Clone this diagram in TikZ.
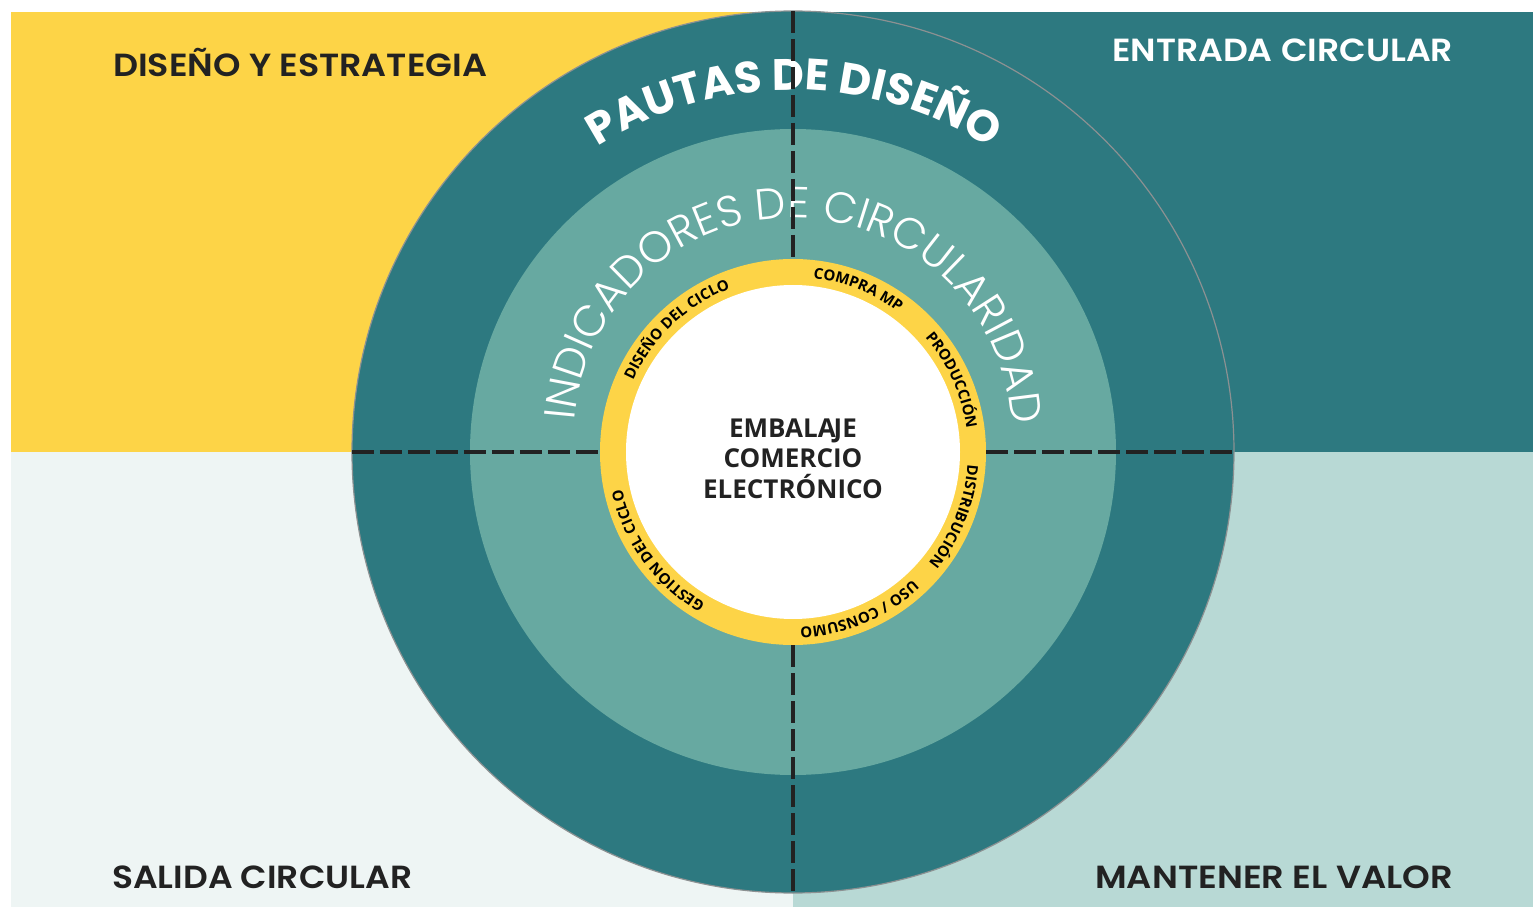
\documentclass[tikz,border=0pt]{standalone}
\usepackage{fontspec}
\usepackage{graphicx}
\usetikzlibrary{decorations.text}
\newfontfamily\titlefam{Poppins SemiBold}
\newfontfamily\pautasfam{Poppins Bold}
\newfontfamily\thinfam{Poppins Light}
\newfontfamily\osfam{Open Sans}
\definecolor{cyellow}{HTML}{FDD447}
\definecolor{cteal}{HTML}{2D7980}
\definecolor{cmid}{HTML}{67A9A1}
\definecolor{clight}{HTML}{B8D9D5}
\definecolor{cgrey}{HTML}{EEF5F4}
\definecolor{cdark}{HTML}{222222}
\definecolor{cedge}{HTML}{8C9192}
\newcommand\fitw[2]{\resizebox{#1}{\height}{#2}}
\newcommand\pautasf{\pautasfam\fontsize{44}{46}\selectfont}
\newcommand\indf{\thinfam\fontsize{43.5}{45}\selectfont}
\newcommand\ringf{\osfam\bfseries\fontsize{15}{16}\selectfont}
\begin{document}
\begin{tikzpicture}[x=1pt,y=1pt,
  quadtitle/.style={anchor=base west, inner sep=0, font=\titlefam\fontsize{32}{34}\selectfont},
  centertext/.style={anchor=base, inner sep=0, text=cdark, font=\osfam\bfseries\fontsize{26}{30}\selectfont},
  divider/.style={draw=cdark, line width=3.2, dash pattern=on 22 off 6},
  ringlabel/.style={decorate, decoration={text along path, text align=fit to path, text color=black, text={|\ringf|#1}}},
]
\useasboundingbox (-793,-455) rectangle (740,452);
\fill[white] (-793,-455) rectangle (740,452);
% quadrants
\fill[cyellow] (-782,0) rectangle (0,440);
\fill[cteal] (0,0) rectangle (740,440);
\fill[cgrey] (-782,-455) rectangle (0,0);
\fill[clight] (0,-455) rectangle (740,0);
% rings
\draw[fill=cteal, draw=cedge, line width=1.2] (0,0) circle[radius=441];
\fill[cmid] (0,0) circle[radius=323];
\fill[cyellow] (0,0) circle[radius=193];
\fill[white] (0,0) circle[radius=167];
% quadrant titles
\node[quadtitle, text=cdark] (tl) at (-680,375) {\fitw{374pt}{DISEÑO Y ESTRATEGIA}};
\node[quadtitle, text=white] (tr) at (319,390) {\fitw{341pt}{ENTRADA CIRCULAR}};
\node[quadtitle, text=cdark] (bl) at (-681,-436) {\fitw{300pt}{SALIDA CIRCULAR}};
\node[quadtitle, text=cdark] (br) at (302,-436) {\fitw{358pt}{MANTENER EL VALOR}};
% curved titles
\path[decorate, decoration={text along path, text align=center, text color=white,
  text={|\pautasf|PAUTAS DE DISEÑO}}] (149.8:362) arc[start angle=149.8, end angle=29.8, radius=362];
\path[decorate, decoration={text along path, text align=center, text color=white,
  text={|\indf|INDICADORES DE CIRCULARIDAD}}] ([shift={(0,15)}]184.5:219) arc[start angle=184.5, end angle=-5.5, radius=219];
% ring labels
\path[ringlabel={DISEÑO DEL CICLO}] (156:175) arc[start angle=156, end angle=111, radius=175];
\path[ringlabel={COMPRA MP}] (83.4:175) arc[start angle=83.4, end angle=53.8, radius=175];
\path[ringlabel={PRODUCCIÓN}] (41:175) arc[start angle=41, end angle=7.9, radius=175];
\path[ringlabel={DISTRIBUCIÓN}] (-4:175) arc[start angle=-4, end angle=-39, radius=175];
\path[ringlabel={USO / CONSUMO}] (-46.8:175) arc[start angle=-46.8, end angle=-87.7, radius=175];
\path[ringlabel={GESTIÓN DEL CICLO}] (-120:175) arc[start angle=-120, end angle=-167, radius=175];
% dividers (drawn over the texts)
\coordinate (vt1) at (0,441);
\coordinate (vt2) at (0,193);
\coordinate (vb1) at (0,-193);
\coordinate (vb2) at (0,-441);
\coordinate (hl1) at (-441,0);
\coordinate (hl2) at (-193,0);
\coordinate (hr1) at (193,0);
\coordinate (hr2) at (441,0);
\draw[divider] (vt1) -- (vt2);
\draw[divider] (vb1) -- (vb2);
\draw[divider] (hl1) -- (hl2);
\draw[divider] (hr1) -- (hr2);
% centre
\node[centertext] (c1) at (0,14) {EMBALA\kern-2ptJE};
\node[centertext] (c2) at (0,-16) {COMERCIO};
\node[centertext] (c3) at (0,-46) {ELECTRÓNICO};
\end{tikzpicture}
\end{document}
